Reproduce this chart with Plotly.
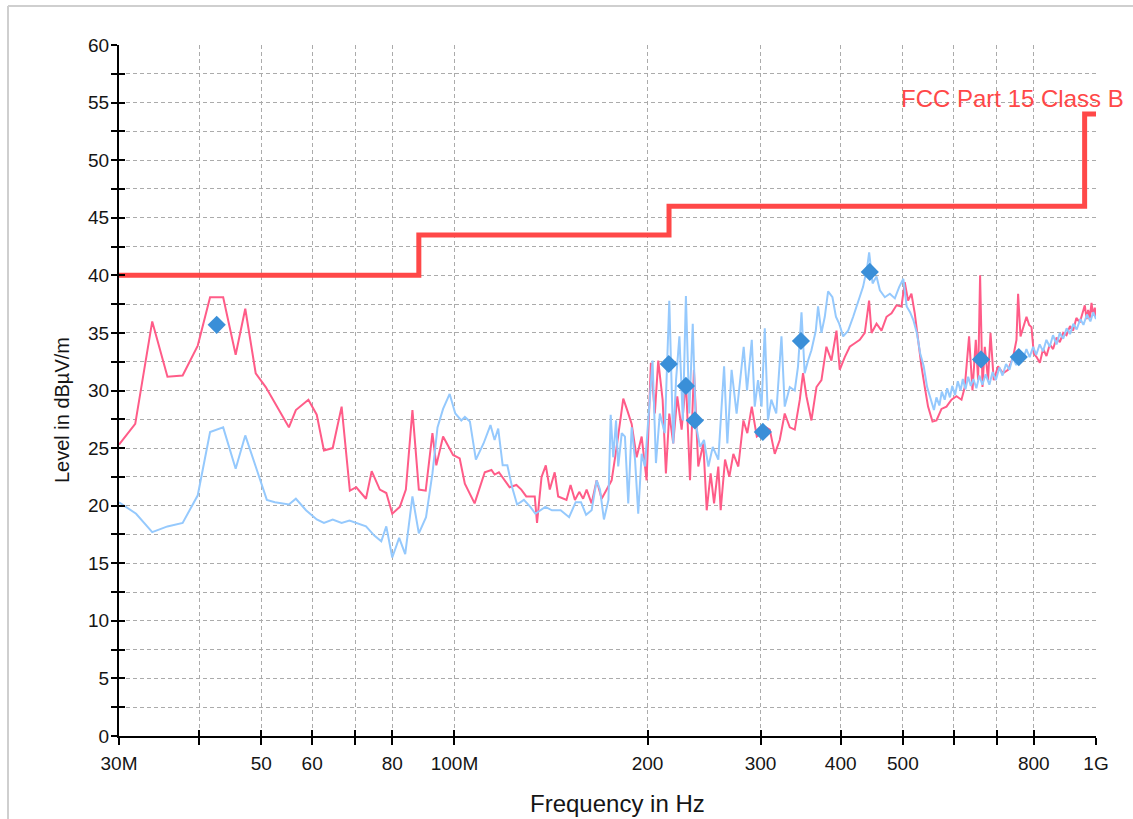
import plotly.graph_objects as go

# ---- data (frequencies in MHz, levels in dBµV/m) ----
peak_f = [30.0, 31.8, 33.8, 35.7, 37.7, 39.8, 41.6, 43.6, 45.6, 47.2, 49.0, 50.8, 55.2, 56.6, 59.2,
          61.0, 62.6, 64.6, 66.7, 68.7, 70.3, 72.8, 74.3, 76.5, 78.3, 80.0, 82.2, 84.0, 86.0, 88.0,
          90.2, 92.4, 93.7, 96.0, 99.5, 101.9, 103.8, 107.5, 111.5, 114.2, 115.5, 117.3, 121.9, 124.9,
          127.1, 129.4, 133.4, 134.5, 136.7, 138.8, 140.8, 143.3, 145.1, 149.5, 151.7, 154.1, 156.5,
          158.7, 160.7, 163.6, 166.6, 169.6, 172.7, 175.8, 179.0, 183.3, 185.9, 188.9, 192.3, 195.8,
          199.3, 202.4, 205.3, 207.8, 211.1, 213.6, 216.2, 219.3, 222.5, 226.0, 229.5, 232.9, 236.2,
          239.9, 244.3, 247.3, 250.8, 253.9, 257.8, 260.0, 264.1, 268.2, 272.1, 277.0, 282.1, 286.1,
          290.7, 296.0, 301.1, 305.7, 310.1, 315.7, 321.4, 327.2, 333.2, 339.2, 345.4, 349.4, 353.7,
          360.1, 366.7, 373.3, 380.0, 386.9, 394.0, 398.6, 405.9, 413.2, 420.7, 428.3, 436.1, 442.9,
          446.8, 454.9, 463.1, 471.5, 480.0, 488.7, 497.5, 503.4, 509.4, 515.6, 521.8, 528.0, 534.5,
          540.9, 547.3, 556.1, 564.1, 574.3, 584.7, 595.3, 606.1, 617.1, 624.4, 634.1, 641.9, 649.6,
          655.0, 659.7, 665.4, 670.9, 678.8, 684.8, 692.8, 703.6, 716.4, 729.4, 742.6, 751.7, 756.1,
          762.7, 769.8, 779.2, 786.6, 793.3, 799.9, 808.0, 817.4, 827.0, 837.2, 847.0, 857.3, 868.0,
          878.2, 889.0, 899.5, 911.0, 921.1, 932.0, 943.5, 955.0, 960.6, 967.0, 972.2, 978.0, 984.0,
          990.0, 995.7, 1000.0]
peak_l = [25.3, 27.1, 36.0, 31.2, 31.3, 33.9, 38.1, 38.1, 33.1, 37.1, 31.5, 30.3, 26.8, 28.3, 29.2,
          27.9, 24.8, 25.0, 28.6, 21.3, 21.6, 20.6, 23.0, 21.4, 21.1, 19.3, 19.9, 21.4, 28.3, 21.4,
          21.3, 26.3, 23.5, 26.0, 24.4, 24.1, 21.9, 20.2, 22.9, 23.1, 22.7, 22.9, 21.6, 21.8,
          21.4, 20.8, 20.8, 18.5, 22.5, 23.5, 21.4, 22.9, 20.8, 20.5, 21.8, 20.5, 21.2,
          20.6, 21.4, 20.2, 22.2, 20.6, 21.4, 22.2, 25.1, 29.3, 28.3, 27.1, 24.2, 26.0,
          22.2, 32.4, 28.0, 32.6, 29.2, 22.8, 28.0, 25.4, 29.5, 26.6, 30.9, 22.2, 31.8,
          23.4, 25.4, 19.6, 22.8, 20.2, 23.4, 19.6, 24.0, 22.5, 24.5, 23.4, 27.4, 26.3,
          28.6, 26.0, 26.3, 26.8, 26.6, 24.5, 25.7, 28.0, 26.8, 26.6, 29.2, 31.5, 29.5,
          27.4, 30.3, 30.9, 33.8, 32.6, 35.2, 31.8, 32.9, 33.8, 34.1, 34.4, 35.0, 37.8,
          35.0, 35.8, 35.2, 36.4, 36.7, 37.4, 37.3, 39.4, 37.8, 38.4, 36.7, 34.4, 32.1,
          30.3, 28.6, 27.3, 27.4, 28.4, 28.6, 29.2, 29.5, 29.2, 30.3, 34.7, 30.0, 34.4,
          30.9, 40.0, 30.3, 33.8, 30.9, 35.0, 30.9, 32.1, 31.5, 31.8, 32.9, 34.4, 38.4,
          34.7, 35.5, 36.4, 35.7, 35.5, 33.2, 32.9, 32.4, 33.6, 33.0, 34.0, 33.6, 34.6,
          34.2, 35.0, 34.8, 35.6, 35.2, 36.3, 35.9, 37.0, 37.4, 36.2, 37.0, 36.3, 37.6,
          36.5, 37.2, 36.4]

avg_f = [30.0, 31.9, 33.8, 35.7, 37.7, 39.8, 41.6, 43.6, 45.6, 47.2, 49.0, 51.0, 52.5, 55.2, 56.6,
         58.7, 61.0, 62.6, 64.6, 66.7, 68.6, 70.5, 72.8, 75.0, 76.9, 78.3, 80.0, 82.0, 83.8, 86.0,
         88.0, 90.3, 92.4, 94.1, 96.0, 98.3, 100.3, 102.5, 103.8, 105.7, 108.0, 111.0, 113.8, 115.5,
         117.0, 118.9, 120.9, 123.0, 125.2, 128.3, 131.3, 133.7, 138.6, 141.9, 146.4, 150.9, 154.5,
         157.5, 160.4, 163.6, 166.6, 168.6, 171.0, 173.8, 175.2, 176.8, 178.6, 180.0, 182.3, 184.4,
         186.6, 188.9, 191.2, 193.4, 195.8, 198.1, 201.2, 203.6, 206.1, 209.0, 212.7, 216.2, 219.3,
         221.5, 224.2, 227.0, 229.5, 232.3, 235.2, 237.8, 241.4, 244.9, 248.8, 252.7, 257.8, 263.2,
         266.3, 270.4, 275.3, 278.5, 282.4, 285.8, 290.7, 293.8, 297.3, 301.1, 304.6, 308.1, 311.8,
         317.4, 323.4, 327.2, 333.2, 339.2, 343.2, 347.5, 351.5, 355.8, 360.1, 365.8, 368.8, 373.3,
         377.8, 382.3, 388.3, 393.2, 397.8, 403.5, 410.8, 418.3, 425.8, 433.4, 439.9, 443.0, 448.5,
         454.9, 460.4, 468.7, 477.2, 485.8, 493.5, 500.8, 506.9, 513.1, 519.3, 525.7, 532.2, 538.8,
         545.5, 552.3, 559.0, 564.0, 570.0, 575.0, 581.0, 586.0, 592.0, 597.0, 603.0, 609.0, 615.0,
         620.0, 626.0, 632.0, 638.0, 644.0, 651.0, 658.0, 665.0, 673.0, 682.0, 690.0, 698.0, 707.0,
         715.0, 724.0, 733.0, 742.0, 751.0, 760.0, 769.0, 779.0, 788.0, 798.0, 807.0, 817.0, 827.0,
         837.0, 847.0, 857.0, 868.0, 878.0, 889.0, 900.0, 911.0, 922.0, 933.0, 945.0, 956.0, 968.0,
         980.0, 990.0, 1000.0]
avg_l = [20.3, 19.3, 17.7, 18.2, 18.5, 20.9, 26.4, 26.8, 23.2, 26.1, 23.4, 20.5, 20.3, 20.1, 20.6,
         19.6, 18.8, 18.5, 18.8, 18.5, 18.7, 18.5, 18.2, 17.4, 16.9, 18.2, 15.5, 17.2, 15.8, 20.8,
         17.6, 19.0, 22.8, 26.8, 28.4, 29.7, 28.0, 27.4, 27.7, 27.3, 24.0, 25.4, 27.0, 25.7,
         26.7, 23.5, 23.5, 21.6, 20.1, 20.5, 19.9, 19.3, 19.9, 19.6, 19.6, 19.0, 20.3,
         20.3, 19.2, 19.6, 22.2, 21.4, 18.8, 20.5, 27.9, 24.2, 27.4, 23.4, 26.3, 26.0,
         20.2, 26.8, 24.0, 19.3, 24.5, 23.4, 28.9, 32.6, 23.7, 28.0, 26.3, 37.8, 25.4,
         30.9, 34.7, 27.4, 38.2, 28.0, 35.8, 27.1, 25.1, 25.7, 23.4, 25.1, 24.0, 32.1,
         25.4, 31.8, 28.0, 30.6, 33.8, 30.0, 34.4, 28.6, 30.9, 28.6, 35.4, 27.4, 29.2,
         28.0, 34.7, 28.6, 30.3, 30.0, 32.1, 36.8, 31.5, 32.6, 33.5, 35.2, 37.3, 35.0,
         36.4, 38.6, 38.1, 36.4, 35.8, 34.7, 35.2, 36.4, 37.8, 39.0, 40.7, 42.0, 39.3,
         39.9, 38.7, 38.1, 38.4, 38.0, 39.0, 39.7, 37.3, 36.8, 36.1, 35.0, 33.2, 32.1,
         30.3, 29.2, 28.3, 29.4, 28.7, 29.9, 29.2, 30.2, 29.4, 30.4, 29.6, 30.8, 30.0,
         31.0, 30.1, 31.2, 30.4, 31.0, 30.2, 31.3, 30.5, 31.4, 30.5, 31.6, 30.9, 32.0,
         31.3, 32.3, 31.8, 32.9, 32.2, 33.3, 32.6, 33.6, 32.9, 33.8, 33.1, 34.0, 33.4,
         34.4, 33.8, 34.8, 34.0, 35.0, 34.5, 35.4, 34.9, 35.8, 35.3, 36.2, 35.7, 36.6,
         36.0, 36.8, 36.2]

# final measurement points
final_f = [42.6, 215.8, 229.5, 237.0, 302.5, 346.8, 444.0, 661.9, 758.0]
final_l = [35.7, 32.3, 30.4, 27.4, 26.4, 34.3, 40.3, 32.7, 32.9]

# FCC Part 15 Class B limit (3 m), step edges
limit_f = [30.0, 88.0, 216.0, 960.0, 1000.0]
limit_l = [40.0, 43.5, 46.0, 54.0, 54.0]
limit_name = "FCC Part 15 Class B"

# axis ticks
y_ticks = [i * 2.5 for i in range(25)]
y_text = [str(int(v)) if v % 5 == 0 else "" for v in y_ticks]
x_ticks_mhz = [30, 40, 50, 60, 70, 80, 100, 200, 300, 400, 500, 600, 700, 800, 1000]
x_text = ["30M", "", "50", "60", "", "80", "100M", "200", "300", "400", "500", "", "", "800", "1G"]

MHZ = 1e6
FONT = "Liberation Sans, Arial, sans-serif"
PINK = "#ff5c88"
BLUE = "#95c9fd"
LIMIT = "#ff4848"
MARK = "#3a8fd8"
GRID = "#ababab"
TEXT = "#151515"

fig = go.Figure()
fig.add_trace(go.Scatter(x=[f * MHZ for f in peak_f], y=peak_l, mode="lines",
                         line=dict(color=PINK, width=2), showlegend=False, hoverinfo="skip"))
fig.add_trace(go.Scatter(x=[f * MHZ for f in avg_f], y=avg_l, mode="lines",
                         line=dict(color=BLUE, width=2), showlegend=False, hoverinfo="skip"))
fig.add_trace(go.Scatter(x=[f * MHZ for f in limit_f], y=limit_l, mode="lines",
                         line=dict(color=LIMIT, width=5, shape="hv"), showlegend=False,
                         hoverinfo="skip"))
fig.add_trace(go.Scatter(x=[f * MHZ for f in final_f], y=final_l, mode="markers",
                         marker=dict(symbol="diamond", size=14, color=MARK), showlegend=False))
# empty trace that carries the overlay axes used for the inner half of the ticks
fig.add_trace(go.Scatter(x=[], y=[], xaxis="x2", yaxis="y2", showlegend=False))

x_range = [7.47712125, 9.0]
x_vals = [v * MHZ for v in x_ticks_mhz]

fig.update_layout(
    width=1133, height=819,
    margin=dict(l=119, r=37, t=45, b=83),
    paper_bgcolor="white", plot_bgcolor="white",
    font=dict(family=FONT, color=TEXT),
    xaxis=dict(type="log", range=x_range, tickmode="array", tickvals=x_vals, ticktext=x_text,
               showgrid=True, gridcolor=GRID, gridwidth=1, griddash="4px,3px",
               showline=True, linecolor="black", linewidth=2, zeroline=False,
               ticks="outside", ticklen=7, tickwidth=2, tickcolor="black",
               ticklabelstandoff=2, tickfont=dict(size=19, color=TEXT)),
    yaxis=dict(range=[0, 60], tickmode="array", tickvals=y_ticks, ticktext=y_text,
               showgrid=True, gridcolor=GRID, gridwidth=1, griddash="4px,3px",
               showline=True, linecolor="black", linewidth=2, zeroline=False,
               ticks="outside", ticklen=6, tickwidth=2, tickcolor="black",
               ticklabelstandoff=-2, tickfont=dict(size=19, color=TEXT)),
    xaxis2=dict(type="log", range=x_range, overlaying="x", anchor="y2", side="bottom",
                tickmode="array", tickvals=x_vals, showticklabels=False, showgrid=False,
                showline=False, zeroline=False, ticks="inside", ticklen=6, tickwidth=2,
                tickcolor="black"),
    yaxis2=dict(range=[0, 60], overlaying="y", anchor="x2", side="left",
                tickmode="array", tickvals=y_ticks, showticklabels=False, showgrid=False,
                showline=False, zeroline=False, ticks="inside", ticklen=6, tickwidth=2,
                tickcolor="black"),
    shapes=[
        # panel frame: top and left edges
        dict(type="line", xref="paper", yref="paper", x0=-0.1136, x1=1.2, y0=1.0564, y1=1.0564,
             line=dict(color="#cfcfcf", width=2), layer="below"),
        dict(type="line", xref="paper", yref="paper", x0=-0.1136, x1=-0.1136, y0=-0.2, y1=1.0564,
             line=dict(color="#cfcfcf", width=2), layer="below"),
    ],
    annotations=[
        dict(text="Frequency in Hz", xref="paper", yref="paper", x=0.5107, y=-0.097,
             xanchor="center", yanchor="middle", showarrow=False,
             font=dict(size=24, color=TEXT, family=FONT)),
        dict(text="Level in dBµV/m", xref="paper", yref="paper", x=-0.0583, y=0.4717,
             xanchor="center", yanchor="middle", textangle=-90, showarrow=False,
             font=dict(size=20, color=TEXT, family=FONT)),
        dict(text=limit_name, xref="paper", yref="y", x=1.0307, y=limit_l[-1],
             xanchor="right", yanchor="bottom", showarrow=False,
             font=dict(size=24, color=LIMIT, family=FONT)),
    ],
)

fig.write_html("out.html")
